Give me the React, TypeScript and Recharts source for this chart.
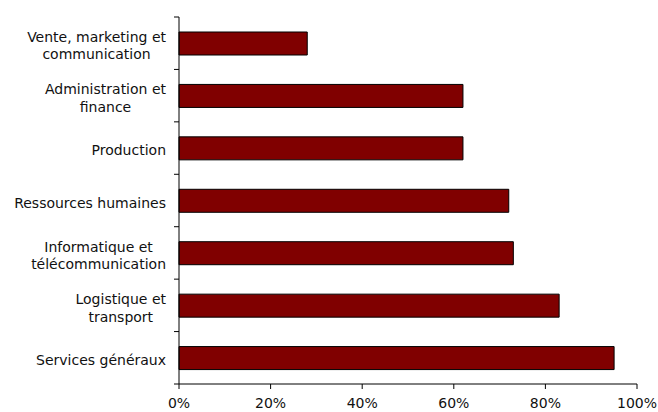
import React from "react";
import { BarChart, Bar, XAxis, YAxis } from "recharts";

const categories: string[][] = [
  ["Vente, marketing et", "communication"],
  ["Administration et", "finance"],
  ["Production"],
  ["Ressources humaines"],
  ["Informatique et", "télécommunication"],
  ["Logistique et", "transport"],
  ["Services généraux"],
];
const values: number[] = [28, 62, 62, 72, 73, 83, 95];
const xTicks: number[] = [0, 20, 40, 60, 80, 100];

const data = categories.map((c, i) => ({ name: c.join("|"), value: values[i] }));

const FONT = "DejaVu Sans, Verdana, sans-serif";
const FS = 14;

let ctx: CanvasRenderingContext2D | null = null;
function measure(t: string): number {
  if (!ctx) {
    const c = document.createElement("canvas");
    ctx = c.getContext("2d");
  }
  if (!ctx) return t.length * FS * 0.6;
  ctx.font = `${FS}px DejaVu Sans`;
  return ctx.measureText(t).width;
}

const YTick = (props: any) => {
  const { x, y, payload, index } = props;
  const lines: string[] = String(payload.value).split("|");
  const half = payload.offset ?? 26.2;
  const axisX = x;
  const maxW = Math.max(...lines.map(measure));
  const right = axisX - 13;
  const cx = right - maxW / 2;
  const lh = 17.5;
  return (
    <g>
      <line x1={axisX - 5} x2={axisX} y1={y - half} y2={y - half} stroke="#000" />
      {index === categories.length - 1 && (
        <line x1={axisX - 5} x2={axisX} y1={y + half} y2={y + half} stroke="#000" />
      )}
      <text
        x={cx}
        y={y}
        textAnchor="middle"
        fontFamily={FONT}
        fontSize={FS}
        fill="#111"
      >
        {lines.map((l, i) => (
          <tspan key={i} x={cx} y={y + 2.5 + (i - (lines.length - 1) / 2) * lh} dy="0.35em">
            {l}
          </tspan>
        ))}
      </text>
    </g>
  );
};

export default function App() {
  return (
    <div style={{ position: "absolute", left: 0, top: 0, background: "#fff" }}>
      <BarChart
        width={658}
        height={412}
        data={data}
        layout="vertical"
        margin={{ top: 17, right: 21, bottom: 0, left: 0 }}
      >
        <XAxis
          type="number"
          domain={[0, 100]}
          ticks={xTicks}
          tickFormatter={(v: number) => `${v}%`}
          height={28}
          tickSize={5}
          tickMargin={9}
          axisLine={{ stroke: "#000" }}
          tickLine={{ stroke: "#000" }}
          tick={{ fill: "#111", fontFamily: FONT, fontSize: FS }}
          interval={0}
        />
        <YAxis
          type="category"
          dataKey="name"
          width={179}
          axisLine={{ stroke: "#000" }}
          tickLine={false}
          tickSize={0}
          tickMargin={0}
          tick={<YTick />}
          interval={0}
        />
        <Bar
          dataKey="value"
          fill="#800000"
          stroke="#000"
          strokeWidth={1}
          barSize={23}
          isAnimationActive={false}
        />
      </BarChart>
    </div>
  );
}
